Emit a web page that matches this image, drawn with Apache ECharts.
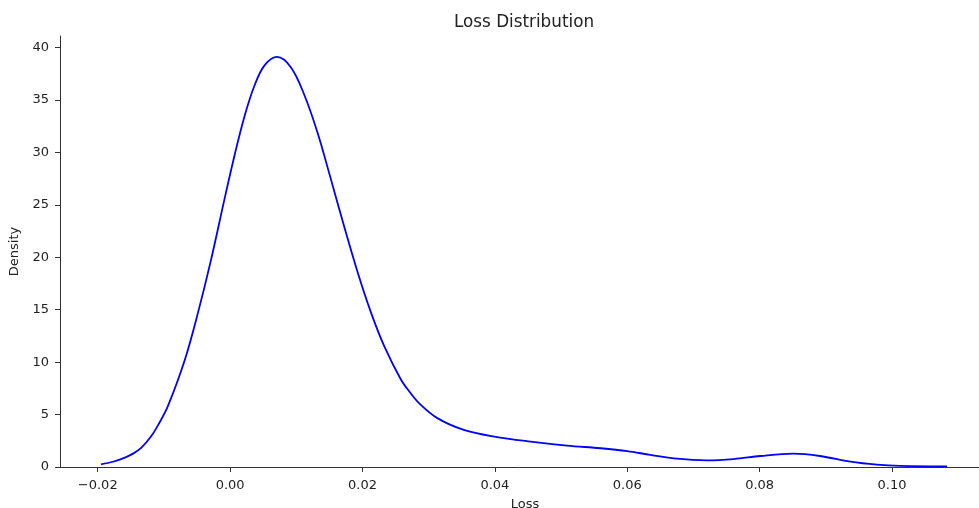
<!DOCTYPE html>
<html>
<head>
<meta charset="utf-8">
<script src="https://cdn.jsdelivr.net/npm/echarts@6/dist/echarts.min.js"></script>
<style>html,body{margin:0;padding:0;background:#fff}#c{width:979px;height:508px}</style>
</head>
<body>
<div id="c"></div>
<script>
const lossX = [-0.0195,-0.0177,-0.0159,-0.0146,-0.0134,-0.0119,-0.0107,-0.0094,-0.0069,-0.0049,-0.0029,-0.0009,0.0007,0.0022,0.0037,0.0052,0.0071,0.0092,0.0112,0.0132,0.0152,0.0172,0.0193,0.0213,0.0233,0.0258,0.0272,0.0286,0.0313,0.0353,0.0399,0.0454,0.0509,0.0560,0.0600,0.0635,0.0670,0.0720,0.0761,0.0801,0.0851,0.0891,0.0937,0.0977,0.1012,0.1083];
const density = [0.26,0.5,0.9,1.3,1.85,2.95,4.2,5.8,10.1,14.6,19.7,25.4,29.8,33.5,36.4,38.3,39.1,38.1,35.5,31.9,27.5,23.0,18.5,14.7,11.5,8.35,7.1,6.05,4.66,3.54,2.9,2.42,2.04,1.79,1.52,1.15,0.83,0.64,0.76,1.05,1.27,1.05,0.51,0.22,0.1,0.06];
const xTicks = [-0.02,0.00,0.02,0.04,0.06,0.08,0.10];
const yTicks = [0,5,10,15,20,25,30,35,40];
const titleText = 'Loss Distribution';
const xName = 'Loss';
const yName = 'Density';

const font = 'DejaVu Sans';
const txt = '#222';
const chart = echarts.init(document.getElementById('c'));
chart.setOption({
  animation: false,
  backgroundColor: '#fff',
  title: {
    text: titleText, left: 449, top: 9,
    textStyle: {fontFamily: font, fontSize: 16.8, fontWeight: 'normal', color: txt}
  },
  grid: {left: 60, right: -11, top: 36, bottom: 41, containLabel: false, outerBoundsMode: 'none'},
  xAxis: {
    type: 'value', min: -0.0257, max: 0.1148,
    name: xName, nameLocation: 'middle', nameGap: 31,
    nameTextStyle: {fontFamily: font, fontSize: 13, color: txt},
    axisLine: {show: true, onZero: false, lineStyle: {color: '#333', width: 1}},
    axisTick: {show: true, length: 5, customValues: xTicks, lineStyle: {color: '#333'}},
    axisLabel: {customValues: xTicks, margin: 12, fontFamily: font, fontSize: 13, color: txt,
      formatter: v => (v < 0 ? '\u2212' : '') + Math.abs(v).toFixed(2)},
    splitLine: {show: false}
  },
  yAxis: {
    type: 'value', min: 0, max: 41.1,
    name: yName, nameLocation: 'middle', nameGap: 36, nameRotate: 90,
    nameTextStyle: {fontFamily: font, fontSize: 13, color: txt},
    axisLine: {show: true, onZero: false, lineStyle: {color: '#333', width: 1}},
    axisTick: {show: true, length: 5, customValues: yTicks, lineStyle: {color: '#333'}},
    axisLabel: {customValues: yTicks, margin: 11, fontFamily: font, fontSize: 13, color: txt},
    splitLine: {show: false}
  },
  series: [{
    type: 'line',
    data: lossX.map((x, i) => [x, density[i]]),
    showSymbol: false,
    smooth: 0.35,
    lineStyle: {color: '#0000ff', width: 1.8},
    itemStyle: {color: '#0000ff'}
  }]
});
</script>
</body>
</html>
